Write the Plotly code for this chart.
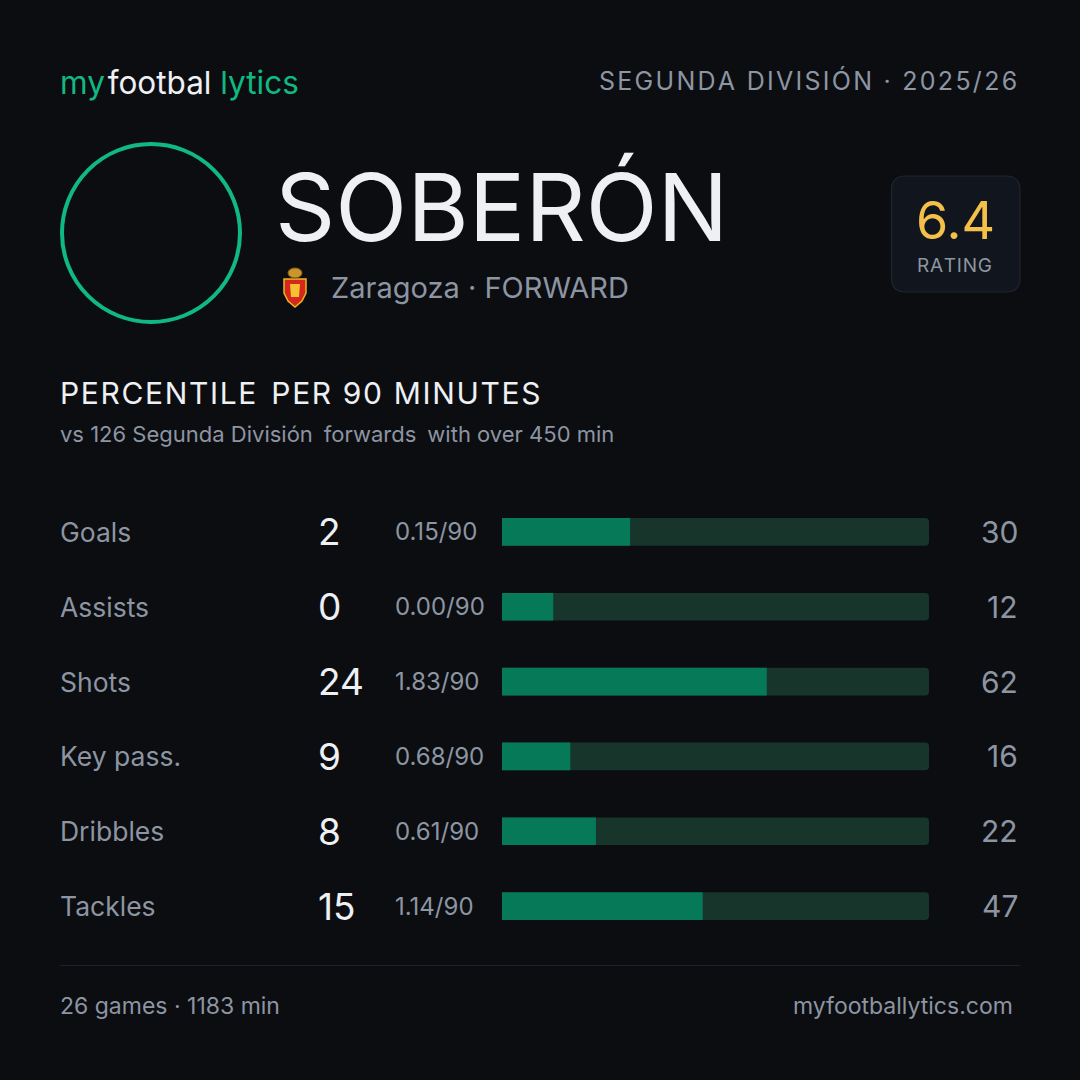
import plotly.graph_objects as go

# ---------------- data ----------------
metrics = ["Goals", "Assists", "Shots", "Key pass.", "Dribbles", "Tackles"]
totals = [2, 0, 24, 9, 8, 15]
per90 = ["0.15/90", "0.00/90", "1.83/90", "0.68/90", "0.61/90", "1.14/90"]
percentiles = [30, 12, 62, 16, 22, 47]

player = "SOBERÓN"
club = "Zaragoza"
position = "FORWARD"
league_season = "SEGUNDA DIVISIÓN · 2025/26"
rating = "6.4"
games = 26
minutes = 1183
sample_n = 126

# ---------------- style ----------------
W = H = 1080
BG = "#0b0d11"
GREEN = "#10b981"
FILL = "#067a58"
TRACK = "#17352b"
WHITE = "#eef0f4"
GREY = "#8d95a2"
FONT = "Inter"
HAIR = "\u200a"


def spaced(s, gap_size=None):
    sep = HAIR if gap_size is None else f"<span style='font-size:{gap_size}px'>{HAIR}</span>"
    return sep.join(list(s))


def px(x):
    return x / W


def py(y):
    return 1 - y / H


def rrect(x0, y0, x1, y1, r):
    X0, X1 = px(x0), px(x1)
    Y0, Y1 = py(y0), py(y1)
    rx, ry = r / W, r / H
    return (f"M{X0+rx},{Y0} L{X1-rx},{Y0} Q{X1},{Y0} {X1},{Y0-ry} "
            f"L{X1},{Y1+ry} Q{X1},{Y1} {X1-rx},{Y1} L{X0+rx},{Y1} "
            f"Q{X0},{Y1} {X0},{Y1+ry} L{X0},{Y0-ry} Q{X0},{Y0} {X0+rx},{Y0} Z")


fig = go.Figure()

# track bars
fig.add_trace(go.Bar(
    y=metrics, x=[100] * len(metrics), orientation="h",
    marker=dict(color=TRACK, line=dict(width=0)), width=0.37,
    hoverinfo="skip", showlegend=False,
))
# percentile bars
fig.add_trace(go.Bar(
    y=metrics, x=percentiles, orientation="h",
    marker=dict(color=FILL, line=dict(width=0)), width=0.37,
    hoverinfo="skip", showlegend=False,
))

row_top, row_bot = 494.5, 943.5
fig.update_layout(
    width=W, height=H, margin=dict(l=0, r=0, t=0, b=0),
    paper_bgcolor=BG, plot_bgcolor=BG,
    barmode="overlay", barcornerradius=4,
    font=dict(family=FONT, color=WHITE),
    xaxis=dict(domain=[px(502), px(929)], range=[0, 100], visible=False, fixedrange=True),
    yaxis=dict(domain=[py(row_bot), py(row_top)], categoryorder="array",
               categoryarray=metrics, autorange="reversed", visible=False, fixedrange=True),
    showlegend=False,
)

ann = []


def add_text(text, x, y, size, color, anchor="left", yref="paper", family=FONT):
    ann.append(dict(
        text=text, x=px(x), xref="paper",
        y=(py(y) if yref == "paper" else y), yref=yref,
        xanchor=anchor, yanchor="middle", showarrow=False,
        font=dict(size=size, color=color, family=family),
    ))


# header
add_text(f"<span style='color:{GREEN}'>my</span>\u200a<span style='color:{WHITE}'>footbal</span> "
         f"<span style='color:{GREEN}'>lytics</span>", 58, 83, 31.5, GREEN)
add_text(spaced(league_season), 1019, 81, 25, GREY, anchor="right")

# player
add_text(player, 273, 207, 94, WHITE)
add_text(f"{club} · {position}", 329, 288, 29, GREY)

# rating
add_text(rating, 955, 221, 52, "#f5c04a", anchor="center")
add_text(spaced("RATING", 8), 954, 265, 19, GREY, anchor="center")

# section title
add_text(spaced("PERCENTILE", 18) + "\u2002" + spaced("PER 90 MINUTES", 18), 58, 393, 30, WHITE)
add_text(f"vs {sample_n} Segunda División\u2002forwards\u2002with over 450 min", 58, 434, 22, GREY)

# rows
for m, t, p9, pc in zip(metrics, totals, per90, percentiles):
    ann.append(dict(text=m, x=px(58), xref="paper", y=m, yref="y", xanchor="left",
                    yanchor="middle", showarrow=False, font=dict(size=26.5, color=GREY, family=FONT)))
    ann.append(dict(text=str(t), x=px(316), xref="paper", y=m, yref="y", xanchor="left",
                    yanchor="middle", showarrow=False, font=dict(size=37, color=WHITE, family=FONT)))
    ann.append(dict(text=p9, x=px(393), xref="paper", y=m, yref="y", xanchor="left",
                    yanchor="middle", showarrow=False, font=dict(size=24, color=GREY, family=FONT)))
    ann.append(dict(text=str(pc), x=px(1020), xref="paper", y=m, yref="y", xanchor="right",
                    yanchor="middle", showarrow=False, font=dict(size=30, color=GREY, family=FONT)))

# footer
add_text(f"{games} games · {minutes} min", 58, 1006, 23, GREY)
add_text("myfootballytics.com", 1015, 1006, 23, GREY, anchor="right")

fig.update_layout(annotations=ann)

shapes = [
    # avatar ring
    dict(type="circle", xref="paper", yref="paper", x0=px(62), x1=px(240), y0=py(144), y1=py(322),
         line=dict(color=GREEN, width=4), fillcolor="rgba(0,0,0,0)"),
    # rating box
    dict(type="path", xref="paper", yref="paper", path=rrect(891.5, 176, 1020, 292, 14),
         fillcolor="#11151d", line=dict(color="#1f2530", width=1.2)),
    # footer divider
    dict(type="line", xref="paper", yref="paper", x0=px(60), x1=px(1020), y0=py(965.5), y1=py(965.5),
         line=dict(color="#1e2129", width=1)),
]

# club badge (decorative shield)
bx, by = 295, 289
shield = [(bx - 11, by - 10), (bx + 11, by - 10), (bx + 11, by + 4), (bx + 7, by + 12), (bx, by + 18),
          (bx - 7, by + 12), (bx - 11, by + 4)]
path = "M" + " L".join(f"{px(a)},{py(b)}" for a, b in shield) + " Z"
shapes.append(dict(type="path", xref="paper", yref="paper", path=path,
                   fillcolor="#d7261e", line=dict(color="#e8b923", width=1.5)))
shapes.append(dict(type="circle", xref="paper", yref="paper", x0=px(bx - 7), x1=px(bx + 7),
                   y0=py(by - 11), y1=py(by - 21), fillcolor="#c8962a", line=dict(color="#8a5a14", width=1)))
shapes.append(dict(type="path", xref="paper", yref="paper",
                   path=f"M{px(bx-5)},{py(by-5)} L{px(bx+5)},{py(by-5)} L{px(bx+4)},{py(by+8)} L{px(bx-4)},{py(by+8)} Z",
                   fillcolor="#f2c230", line=dict(width=0)))
fig.update_layout(shapes=shapes)

fig.write_html(
    "out.html",
    config={"displayModeBar": False, "staticPlot": True},
    post_script="document.body.style.margin='0';document.body.style.background='#0b0d11';",
)
